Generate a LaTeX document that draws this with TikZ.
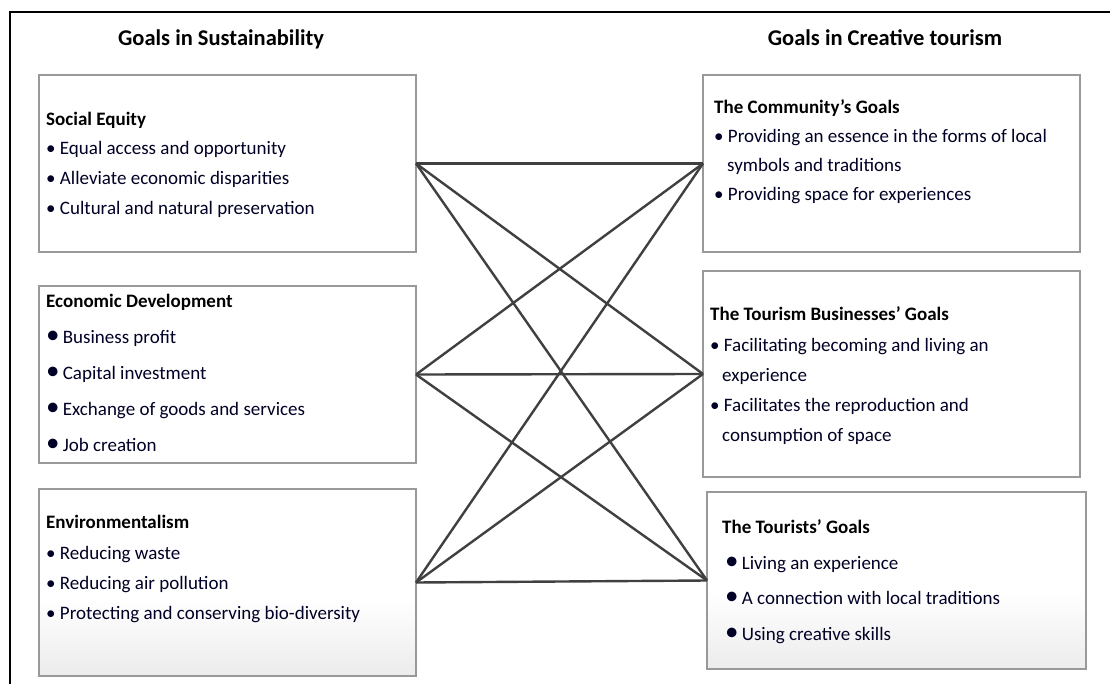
\documentclass[tikz,border=0pt]{standalone}
\usepackage{fontspec}
\setmainfont{Carlito}
\usetikzlibrary{positioning}
\tikzset{
	goalbox/.style={draw=gray!80, line width=1.3pt, fill=white, anchor=north west, inner sep=0pt, outer sep=0pt, minimum width=377pt}, % the six goal boxes
	title/.style={font=\bfseries\fontsize{22.5}{22.5}\selectfont, anchor=base, inner sep=0pt},
	head/.style={font=\bfseries\fontsize{19}{19}\selectfont, anchor=base west, inner sep=0pt},
	item/.style={font=\fontsize{19}{19}\selectfont, anchor=base west, inner sep=0pt, text=black!85!blue},
	link/.style={draw=black!75, line width=2.4pt}, % connectors between the two sides
}
\newcommand{\dotitem}{\textbullet\ }
\newcommand{\bigdot}{{\fontsize{27}{27}\selectfont\textbullet}\,}

\begin{document}
\begin{tikzpicture}[x=1pt, y=-1pt]
	\useasboundingbox (0,0) rectangle (1110,684);
	\draw[line width=2.6pt] (10,684) -- (10,12) -- (1110,12);

	\node[title] (tsus) at (221,46) {Goals in Sustainability};
	\node[title] (tcre) at (885,46) {Goals in Creative tourism};

	% left column
	\node[goalbox, minimum height=177pt] (se) at (39,75) {};
	\node[goalbox, minimum height=177pt] (ed) at (39,286) {};
	\node[goalbox, minimum height=187pt] (env) at (39,489) {};

	% right column
	\node[goalbox, minimum height=177pt] (com) at (703,75) {};
	\node[goalbox, minimum height=206pt] (tb) at (703,271) {};
	\node[goalbox, minimum height=177pt, minimum width=379pt] (tour) at (707,492) {};

	% light grey fade at the bottom of the last two boxes, in thin strips
	\foreach \b in {env,tour}{
		\foreach \i [evaluate=\i as \c using 15-\i/2] in {0,...,29}
			\fill[gray!\c] ([yshift={\i*2.5pt}]\b.south west) rectangle ([yshift={\i*2.5pt+2.6pt}]\b.south east);
		\draw[draw=gray!80, line width=1.3pt] (\b.south west) rectangle (\b.north east);
	}

	\node[head] (seh) at (46,126) {Social Equity};
	\node[item] (se1) at (46,155) {\dotitem Equal access and opportunity};
	\node[item] (se2) at (46,185) {\dotitem Alleviate economic disparities};
	\node[item] (se3) at (46,215) {\dotitem Cultural and natural preservation};

	\node[head] (edh) at (46,308) {Economic Development};
	\node[item] (ed1) at (46,343) {\bigdot Business profit};
	\node[item] (ed2) at (46,379) {\bigdot Capital investment};
	\node[item] (ed3) at (46,415) {\bigdot Exchange of goods and services};
	\node[item] (ed4) at (46,451) {\bigdot Job creation};

	\node[head] (envh) at (46,528) {Environmentalism};
	\node[item] (env1) at (46,559) {\dotitem Reducing waste};
	\node[item] (env2) at (46,589) {\dotitem Reducing air pollution};
	\node[item] (env3) at (46,619) {\dotitem Protecting and conserving bio-diversity};

	\node[head] (comh) at (714,114) {The Community’s Goals};
	\node[item] (com1) at (714,143) {\dotitem Providing an essence in the forms of local};
	\node[item] (com1b) at (727,172) {symbols and traditions};
	\node[item] (com2) at (714,201) {\dotitem Providing space for experiences};

	\node[head] (tbh) at (710,320) {The Tourism Businesses’ Goals};
	\node[item] (tb1) at (710,351) {\dotitem Facilitating becoming and living an};
	\node[item] (tb1b) at (722,381) {experience};
	\node[item] (tb2) at (710,411) {\dotitem Facilitates the reproduction and};
	\node[item] (tb2b) at (722,441) {consumption of space};

	\node[head] (tourh) at (722,533) {The Tourists’ Goals};
	\node[item] (tour1) at (725,569) {\bigdot Living an experience};
	\node[item] (tour2) at (725,604) {\bigdot A connection with local traditions};
	\node[item] (tour3) at (725,640) {\bigdot Using creative skills};

	% every sustainability goal is tied to every creative tourism goal
	\foreach \l in {se,ed,env}
		\foreach \r in {com,tb,tour}
			\draw[link] (\l.east) -- (\r.west);
\end{tikzpicture}
\end{document}
